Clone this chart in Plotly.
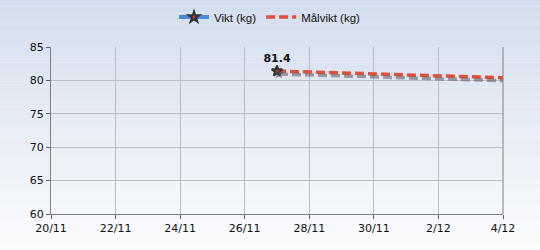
import plotly.graph_objects as go
import pandas as pd

# ---- data ----
vikt_dates = ["2023-11-27"]
vikt_values = [81.4]
mal_dates = ["2023-11-27", "2023-12-04"]
mal_values = [81.4, 80.4]
tick_dates = ["2023-11-20", "2023-11-22", "2023-11-24", "2023-11-26",
              "2023-11-28", "2023-11-30", "2023-12-02", "2023-12-04"]
tick_labels = ["20/11", "22/11", "24/11", "26/11", "28/11", "30/11", "2/12", "4/12"]
y_ticks = [60, 65, 70, 75, 80, 85]

x0, x1 = pd.Timestamp("2023-11-20"), pd.Timestamp("2023-12-04")
y0, y1 = 60, 85

W, H = 540, 250
ml, mr, mt, mb = 51, 37, 47, 36
pw, ph = W - ml - mr, H - mt - mb
dx_px, dy_px = 2, 3
shift_x = (x1 - x0) * (dx_px / pw)
shift_y = (y1 - y0) * (dy_px / ph)

fig = go.Figure()

# shadows (same data, drawn on offset overlay axes)
fig.add_trace(go.Scatter(x=mal_dates, y=mal_values, mode="lines", xaxis="x2", yaxis="y2",
                         line=dict(color="rgba(90,90,90,0.55)", width=3.5, dash="9px,4px"),
                         showlegend=False, hoverinfo="skip"))
fig.add_trace(go.Scatter(x=vikt_dates, y=vikt_values, mode="markers", xaxis="x2", yaxis="y2",
                         marker=dict(symbol="star", size=8, color="rgba(80,80,80,0.6)"),
                         showlegend=False, hoverinfo="skip"))

fig.add_trace(go.Scatter(x=mal_dates, y=mal_values, mode="lines", name="Målvikt (kg)",
                         line=dict(color="#e0503a", width=3.5, dash="9px,4px")))
fig.add_trace(go.Scatter(x=vikt_dates, y=vikt_values, mode="lines+markers+text", name="Vikt (kg)",
                         text=[f"{v:.1f}" for v in vikt_values], textposition="top center",
                         textfont=dict(family="DejaVu Sans", size=11, color="#111"),
                         texttemplate="<b>%{text}</b>",
                         marker=dict(symbol="star", size=8, color="#c0392b",
                                     line=dict(color="#333", width=2)),
                         line=dict(color="#4a8ad8", width=4)))

# gradient background
shapes = []
n = 40
top = (211, 222, 238)
bot = (250, 251, 253)
for i in range(n):
    t = i / (n - 1)
    c = tuple(int(round(top[k] + (bot[k] - top[k]) * t)) for k in range(3))
    shapes.append(dict(type="rect", xref="paper", yref="paper", layer="below",
                       x0=-ml / pw, x1=1 + mr / pw,
                       y0=1 + mt / ph - (i + 1) * (H / ph) / n - 0.002,
                       y1=1 + mt / ph - i * (H / ph) / n,
                       fillcolor=f"rgb{c}", line=dict(width=0)))

font = dict(family="DejaVu Sans", size=11, color="#111")
lfont = dict(family="Liberation Sans", size=11.5, color="#111")
fig.update_layout(
    width=W, height=H, margin=dict(l=ml, r=mr, t=mt, b=mb, autoexpand=False),
    paper_bgcolor="rgba(0,0,0,0)", plot_bgcolor="rgba(0,0,0,0)",
    font=font, shapes=shapes,
    legend=dict(orientation="h", x=0.5, xanchor="center", xref="container",
                y=1 - 17 / H, yanchor="middle", yref="container",
                traceorder="reversed", font=lfont, bgcolor="rgba(0,0,0,0)", itemwidth=30),
    xaxis=dict(type="date", range=[x0, x1], tickvals=tick_dates, ticktext=tick_labels,
               showgrid=True, gridcolor="#b8bcc4", gridwidth=1, showline=True,
               linecolor="#808080", ticks="outside", ticklen=4, tickcolor="#606060",
               zeroline=False, tickfont=font),
    yaxis=dict(range=[y0, y1], tickvals=y_ticks, showgrid=True, gridcolor="#b8bcc4",
               showline=True, linecolor="#808080", ticks="outside", ticklen=4,
               tickcolor="#606060", zeroline=False, tickfont=font),
    xaxis2=dict(type="date", range=[x0 - shift_x, x1 - shift_x], overlaying="x",
                visible=False),
    yaxis2=dict(range=[y0 + shift_y, y1 + shift_y], overlaying="y", visible=False),
    showlegend=True,
)
fig.add_shape(type="line", xref="paper", yref="paper", x0=1, x1=1, y0=0, y1=1,
              line=dict(color="#808080", width=1))

fig.write_html("out.html")
